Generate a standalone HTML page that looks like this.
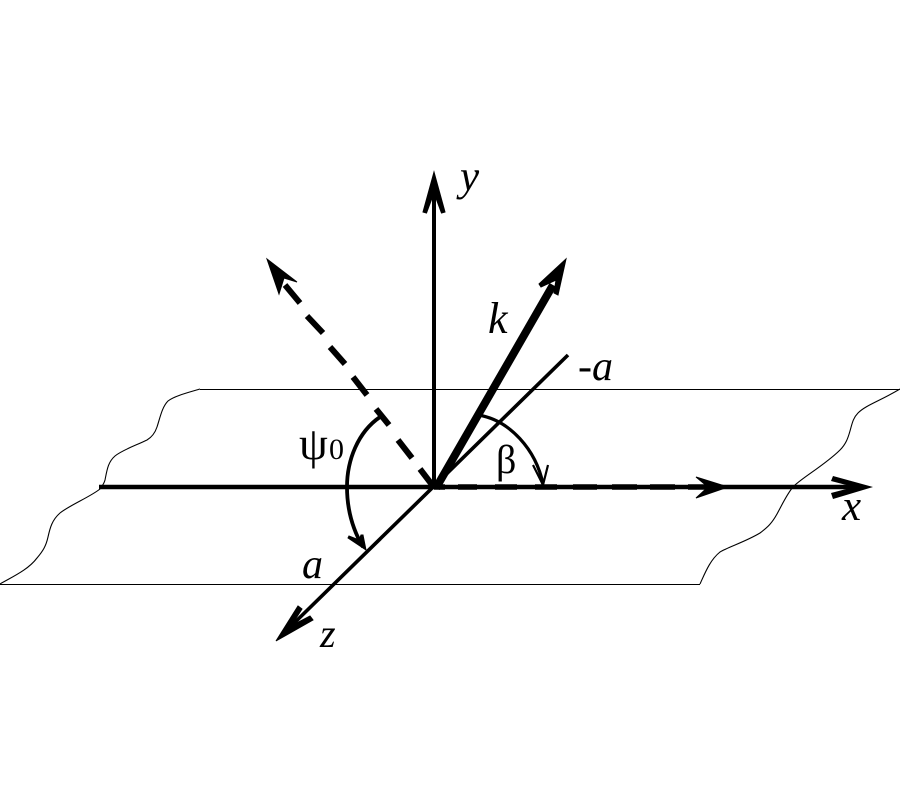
<!DOCTYPE html>
<html>
<head>
<meta charset="utf-8">
<style>
html,body{margin:0;padding:0;background:#fff;}
svg{display:block;}
text{font-family:"Liberation Serif",serif;fill:#000;}
</style>
</head>
<body>
<svg width="900" height="800" viewBox="0 0 900 800" xmlns="http://www.w3.org/2000/svg">
<rect width="900" height="800" fill="#fff"/>
<!-- plane -->
<g fill="none" stroke="#000" stroke-width="1.1">
<path d="M200 389.500H900"/>
<path d="M0 584.500H700"/>
<path d="M0 584C12 577 28 570 37 558C43 551 46 546 48 537C50 528 52 520 60 513C70 505 90 497 100 489C102 486 104 484 105 480C107 470 108 462 115 456C122 450 137 445 147 440C152 437 155 433 157 427C160 418 162 407 168 401C174 396 190 392 200 389"/>
<path d="M700 584C705 573 710 560 720 552C728 547 745 542 760 533C768 527 772 523 777 514C783 503 787 494 793 487C800 479 825 465 840 450C846 444 848 438 850 431C852 424 853 418 858 413C866 405 880 401 900 389"/>
</g>
<!-- y axis -->
<path d="M434 487V190" stroke="#000" stroke-width="4" fill="none"/>
<path d="M434 172L445 212L441.500 213L434 193L426.500 213L423 212Z" fill="#000" stroke="#000" stroke-width="1"/>
<!-- x axis -->
<path d="M99 487H855" stroke="#000" stroke-width="4.500" fill="none"/>
<path d="M873 487L833 476L831 481L854 487L831 493L833 499Z" fill="#000"/>
<path d="M434 487H445M458 487H477M495 487H517M535 487H557M573 487H597M612 487H637M650 487H675M688 487H705" stroke="#000" stroke-width="5.500" fill="none"/>
<path d="M728 487L696 477L708 487L696 498Z" fill="#000" stroke="#000" stroke-width="1"/>
<!-- z / -a line -->
<path d="M568 355L285 632" stroke="#000" stroke-width="3.600" fill="none"/>
<path d="M276 641L298 606L302 609L291 626L310 616L313 620Z" fill="#000" stroke="#000" stroke-width="1"/>
<!-- k -->
<path d="M436 488L553 285" stroke="#000" stroke-width="8" fill="none"/>
<path d="M566 259L558 295L554 293L556 280L541 287L539 284Z" fill="#000" stroke="#000" stroke-width="1"/>
<!-- dashed -->
<g stroke="#000" stroke-width="6" fill="none">
<path d="M420 469L433 486"/>
<path d="M398 440L412 458"/>
<path d="M376 409L389 425"/>
<path d="M353 377L367 395"/>
<path d="M330 347L345 364"/>
<path d="M307 316L323 333"/>
<path d="M285 285L300 303"/>
</g>
<path d="M267 259L297 282L284 278L279 294Z" fill="#000" stroke="#000" stroke-width="1"/>
<!-- psi arc -->
<path d="M380 417C358 432 347 460 347 487C347 510 353 530 363 547" stroke="#000" stroke-width="3.800" fill="none"/>
<path d="M366 550L348 538L349 536L359 540L361 535L363 535Z" fill="#000" stroke="#000" stroke-width="1"/>
<!-- beta arc -->
<path d="M478 415C510 420 536 450 543 484" stroke="#000" stroke-width="3.200" fill="none"/>
<path d="M533 465L543 485L548 465" stroke="#000" stroke-width="2.200" fill="none"/>
<!-- labels -->
<text x="460" y="190" font-size="43" font-style="italic">y</text>
<text x="488" y="333" font-size="44" font-style="italic">k</text>
<text x="578" y="380" font-size="42"><tspan>-</tspan><tspan font-style="italic">a</tspan></text>
<text x="299" y="459" font-size="46">ψ</text>
<text x="329" y="459" font-size="30">0</text>
<text x="496" y="473" font-size="40">β</text>
<text x="302" y="578" font-size="42" font-style="italic">a</text>
<text x="320" y="647" font-size="40" font-style="italic">z</text>
<text x="842" y="520" font-size="43" font-style="italic">x</text>
</svg>
</body>
</html>
